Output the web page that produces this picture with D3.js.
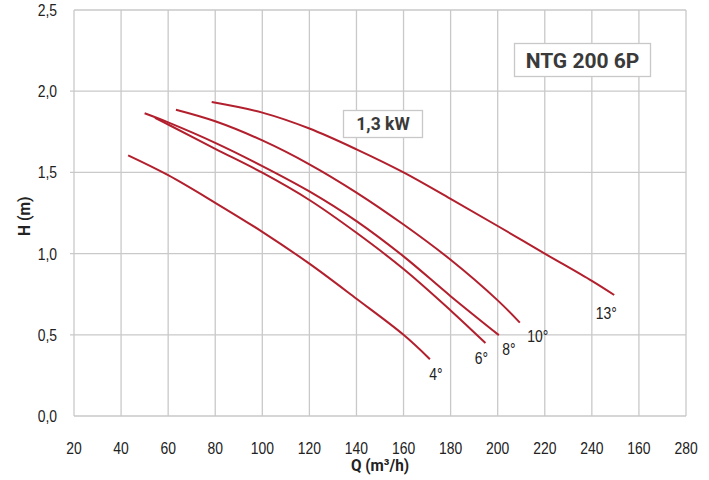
<!DOCTYPE html>
<html>
<head>
<meta charset="utf-8">
<script src="https://cdn.jsdelivr.net/npm/d3@7"></script>
<style>
  html, body { margin: 0; padding: 0; background: #fff; }
  svg { display: block; }
  .tick-label { font-family: "Liberation Sans", Arial, sans-serif; font-size: 17px; fill: #222; }
  .curve-label { font-family: "Liberation Sans", Arial, sans-serif; font-size: 17px; fill: #222; }
  .axis-title { font-family: Roboto, "Open Sans", sans-serif; font-weight: 700; font-size: 17px; fill: #222; }
  .box-text { font-family: Roboto, "Open Sans", sans-serif; font-weight: 700; fill: #3a3a3a; }
</style>
</head>
<body>
<svg id="chart" width="709" height="480"></svg>
<script>
// ---- data ----
const xTicks = [20, 40, 60, 80, 100, 120, 140, 160, 180, 200, 220, 240, 260, 280];
const xTickLabels = ["20", "40", "60", "80", "100", "120", "140", "160", "180", "200", "220", "240", "160", "280"];
const yTicks = [0, 0.5, 1.0, 1.5, 2.0, 2.5];
const yTickLabels = ["0,0", "0,5", "1,0", "1,5", "2,0", "2,5"];

const curveNames = ["4°", "6°", "8°", "10°", "13°"];
const curve4 = [[43, 1.605], [60, 1.483], [80, 1.313], [100, 1.134], [120, 0.938], [140, 0.722], [160, 0.50], [171.2, 0.35]];
const curve6 = [[54.4, 1.836], [60, 1.795], [80, 1.645], [100, 1.498], [120, 1.330], [140, 1.128], [160, 0.905], [180, 0.650], [194.8, 0.449]];
const curve8 = [[50, 1.864], [60, 1.808], [80, 1.682], [100, 1.539], [120, 1.383], [140, 1.200], [160, 0.983], [180, 0.738], [200.5, 0.498]];
const curve10 = [[63.3, 1.886], [80, 1.815], [100, 1.697], [120, 1.550], [140, 1.376], [160, 1.179], [180, 0.962], [200, 0.712], [209.4, 0.575]];
const curve13 = [[78.5, 1.933], [100, 1.868], [120, 1.770], [140, 1.642], [160, 1.500], [180, 1.337], [200, 1.170], [220, 1.000], [240, 0.832], [249.5, 0.745]];
const curves = [curve4, curve6, curve8, curve10, curve13];

const modelLabel = "NTG 200 6P";
const powerLabel = "1,3 kW";
const xTitle = "Q (m³/h)";
const yTitle = "H (m)";

(function () {
// ---- layout ----
const svg = d3.select("#chart");
const pLeft = 74, pRight = 686, pTop = 10, pBottom = 416;
const x = d3.scaleLinear().domain([20, 280]).range([pLeft, pRight]);
const y = d3.scaleLinear().domain([0, 2.5]).range([pBottom, pTop]);
const red = "#b21f2d";
const gridColor = "#c9c9c9";
const narrow = 0.82;

// grid
const grid = svg.append("g");
grid.selectAll("line.v").data(xTicks).enter().append("line")
  .attr("x1", d => x(d)).attr("x2", d => x(d))
  .attr("y1", pTop).attr("y2", pBottom)
  .attr("stroke", gridColor).attr("stroke-width", 1.3);
grid.selectAll("line.h").data(yTicks).enter().append("line")
  .attr("x1", d => (d > 0 && d < 2.5) ? pLeft - 4 : pLeft).attr("x2", pRight)
  .attr("y1", d => y(d)).attr("y2", d => y(d))
  .attr("stroke", gridColor).attr("stroke-width", 1.3);

// tick labels (condensed look)
svg.append("g").selectAll("text").data(yTicks).enter().append("text")
  .attr("class", "tick-label")
  .attr("transform", d => `translate(${pLeft - 17},${y(d)}) scale(${narrow},1)`)
  .attr("dy", "0.35em").attr("text-anchor", "end")
  .text((d, i) => yTickLabels[i]);
svg.append("g").selectAll("text").data(xTicks).enter().append("text")
  .attr("class", "tick-label")
  .attr("transform", d => `translate(${x(d)},${pBottom + 38}) scale(${narrow},1)`)
  .attr("text-anchor", "middle")
  .text((d, i) => xTickLabels[i]);

// axis titles
svg.append("text").attr("class", "axis-title")
  .attr("transform", `translate(${(pLeft + pRight) / 2},471) scale(0.9,1)`)
  .attr("text-anchor", "middle").text(xTitle);
svg.append("text").attr("class", "axis-title")
  .attr("transform", `translate(30,${y(1.23)}) rotate(-90) scale(0.92,1)`)
  .attr("text-anchor", "middle").text(yTitle);

// curves
const line = d3.line().x(d => x(d[0])).y(d => y(d[1])).curve(d3.curveCatmullRom.alpha(0.5));
svg.append("g").selectAll("path").data(curves).enter().append("path")
  .attr("d", line).attr("fill", "none")
  .attr("stroke", red).attr("stroke-width", 2);

// curve labels (offset from each curve's end point)
const labelOffsets = [[6, 21], [-4, 21], [10, 20], [18, 19], [-8, 24]];
svg.append("g").selectAll("text").data(curves).enter().append("text")
  .attr("class", "curve-label")
  .attr("transform", (d, i) => `translate(${x(d[d.length - 1][0]) + labelOffsets[i][0]},${y(d[d.length - 1][1]) + labelOffsets[i][1]}) scale(${narrow},1)`)
  .attr("text-anchor", "middle")
  .text((d, i) => curveNames[i]);

// boxes
function box(cx, cy, w, h, txt, fs) {
  const g = svg.append("g");
  g.append("rect").attr("x", cx - w / 2).attr("y", cy - h / 2)
    .attr("width", w).attr("height", h)
    .attr("fill", "#fff").attr("stroke", "#c8c8c8").attr("stroke-width", 1.3);
  g.append("text").attr("class", "box-text").attr("x", cx).attr("y", cy)
    .attr("dy", "0.36em").attr("text-anchor", "middle")
    .style("font-size", fs + "px").text(txt);
}
box(582.5, 60, 136, 33, modelLabel, 21);
box(383, 124, 79, 27, powerLabel, 17.5);
})();
</script>
</body>
</html>
